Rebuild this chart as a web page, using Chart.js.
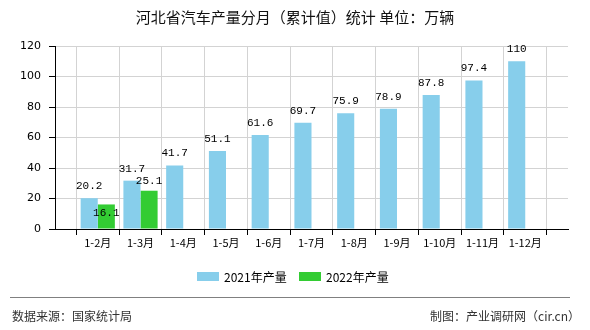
<!DOCTYPE html>
<html>
<head>
<meta charset="utf-8">
<script src="https://cdn.jsdelivr.net/npm/chart.js@4/dist/chart.umd.min.js"></script>
<style>
  html, body { margin: 0; padding: 0; background: #fff; }
  #wrap { width: 590px; height: 330px; position: relative; }
</style>
</head>
<body>
<div id="wrap"><canvas id="myChart" width="590" height="330"></canvas></div>
<script>
// months (empty slots at both ends keep the axis edges on the grid)
var months = ["", "1-2月", "1-3月", "1-4月", "1-5月", "1-6月", "1-7月", "1-8月", "1-9月", "1-10月", "1-11月", "1-12月", ""];
var output2021 = [null, 20.2, 31.7, 41.7, 51.1, 61.6, 69.7, 75.9, 78.9, 87.8, 97.4, 110, null];
var output2022 = [null, 16.1, 25.1, null, null, null, null, null, null, null, null, null, null];
var seriesNames = ["2021年产量", "2022年产量"];
var yTicks = [0, 20, 40, 60, 80, 100, 120];

var cjk = "'Noto Sans CJK SC', 'DejaVu Sans', sans-serif";

const data = {
  labels: months,
  datasets: [
    {
      label: seriesNames[0],
      data: output2021,
      backgroundColor: "#87ceeb",
      borderWidth: 0,
      barPercentage: 1,
      categoryPercentage: 0.8,
    },
    {
      label: seriesNames[1],
      data: output2022,
      backgroundColor: "#33cc33",
      borderWidth: 0,
      barPercentage: 1,
      categoryPercentage: 0.8,
    },
  ],
};

// title, value labels, legend and footer
const decorations = {
  id: "decorations",
  afterDatasetsDraw(chart) {
    const { ctx } = chart;
    ctx.save();
    ctx.textAlign = "center";
    ctx.textBaseline = "middle";
    ctx.fillStyle = "#000";
    ctx.font = "11px 'Liberation Mono', monospace";

    // value labels above bars; second series drops inside the bar on overlap
    const meta0 = chart.getDatasetMeta(0);
    const meta1 = chart.getDatasetMeta(1);
    const placed = [];
    meta0.data.forEach((bar, i) => {
      const v = output2021[i];
      if (v == null) return;
      const y = bar.y - 12;
      ctx.fillText(String(v), bar.x, y);
      placed[i] = y;
    });
    meta1.data.forEach((bar, i) => {
      const v = output2022[i];
      if (v == null) return;
      let y = bar.y - 10;
      if (placed[i] != null && Math.abs(placed[i] - y) < 10) {
        y = bar.y + 9;
      }
      ctx.fillText(String(v), bar.x, y);
    });

    // title
    ctx.font = "15px " + cjk;
    ctx.fillStyle = "#111";
    ctx.fillText("河北省汽车产量分月（累计值）统计 单位：万辆", 295, 17);

    // legend
    ctx.font = "12px " + cjk;
    ctx.textAlign = "left";
    ctx.fillStyle = "#87ceeb";
    ctx.fillRect(197, 272, 22, 9);
    ctx.fillStyle = "#000";
    ctx.fillText(seriesNames[0], 224, 277);
    ctx.fillStyle = "#33cc33";
    ctx.fillRect(299, 272, 22, 9);
    ctx.fillStyle = "#000";
    ctx.fillText(seriesNames[1], 326, 277);

    // footer
    ctx.strokeStyle = "#808080";
    ctx.lineWidth = 1;
    ctx.beginPath();
    ctx.moveTo(10, 297.5);
    ctx.lineTo(570, 297.5);
    ctx.stroke();
    ctx.fillStyle = "#333";
    ctx.font = "12px " + cjk;
    ctx.fillText("数据来源：国家统计局", 12, 316);
    ctx.textAlign = "right";
    ctx.fillText("制图：产业调研网（cir.cn）", 580, 316);
    ctx.restore();
  },
};

const config = {
  type: "bar",
  data,
  options: {
    responsive: false,
    animation: false,
    layout: {
      padding: { top: 46, right: 22, left: 0, bottom: 0 },
    },
    plugins: {
      legend: { display: false },
      title: { display: false },
      tooltip: { enabled: false },
    },
    scales: {
      x: {
        offset: false,
        grid: {
          color: "#d3d3d3",
          tickColor: "#000",
          tickLength: 6,
          drawOnChartArea: true,
        },
        border: { color: "#000" },
        ticks: {
          color: "#000",
          font: { size: 11, family: cjk },
          padding: 1,
          maxRotation: 0,
          autoSkip: false,
        },
        afterFit(axis) {
          axis.height = 101;
        },
      },
      y: {
        min: 0,
        max: 120,
        afterBuildTicks(axis) {
          axis.ticks = yTicks.map((v) => ({ value: v }));
        },
        grid: {
          color: "#d3d3d3",
          tickColor: "#000",
          tickLength: 6,
        },
        border: { color: "#000" },
        ticks: {
          color: "#000",
          font: { size: 11, family: "'DejaVu Sans', sans-serif" },
          padding: 8,
        },
        afterFit(axis) {
          axis.width = 55;
        },
      },
    },
  },
  plugins: [decorations],
};

new Chart(document.getElementById("myChart"), config);
</script>
</body>
</html>
